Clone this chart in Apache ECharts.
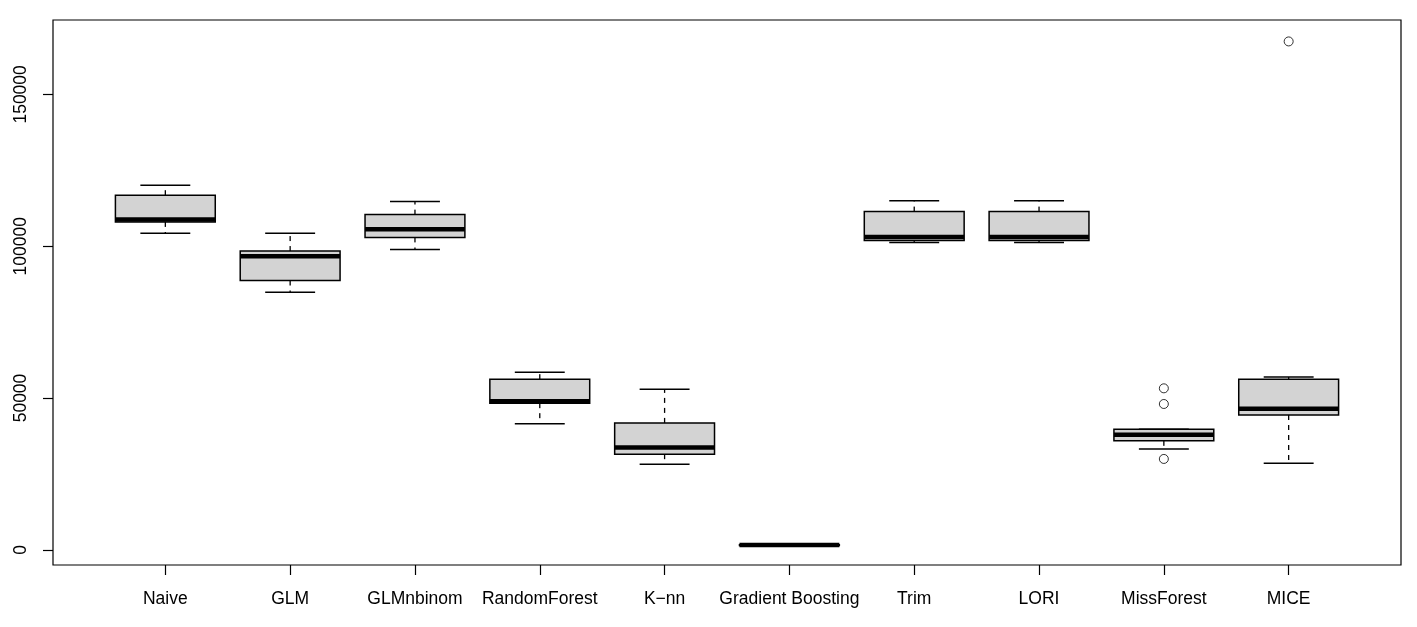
<!DOCTYPE html>
<html>
<head>
<meta charset="utf-8">
<script src="https://cdn.jsdelivr.net/npm/echarts@6/dist/echarts.min.js"></script>
<style>
html,body{margin:0;padding:0;background:#fff;}
#chart{width:1417px;height:627px;}
</style>
</head>
<body>
<div id="chart"></div>
<script>
const categories = ["Naive","GLM","GLMnbinom","RandomForest","K\u2212nn","Gradient Boosting","Trim","LORI","MissForest","MICE"];
const mins    = [104300, 84800, 98900, 41500, 28200, 1300, 101200, 101200, 33200, 28500];
const q1s     = [108000, 88700, 102900, 48300, 31500, 1450, 101900, 101900, 35900, 44400];
const medians = [108800, 96700, 105600, 48900, 33700, 1550, 103000, 103000, 37900, 46500];
const q3s     = [116800, 98400, 110400, 56200, 41800, 1650, 111400, 111400, 39700, 56200];
const maxs    = [120100, 104300, 114700, 58500, 52900, 1800, 115000, 115000, 39700, 56900];
const outlierGroups = [9, 9, 9, 10];
const outlierValues = [53190, 48030, 29930, 167440];
const yTicks = [0, 50000, 100000, 150000];

const boxData = categories.map((c, i) => [i + 1, mins[i], q1s[i], medians[i], q3s[i], maxs[i]]);
const outlierData = outlierGroups.map((g, i) => [g, outlierValues[i]]);

const chart = echarts.init(document.getElementById('chart'));
const font = '"Liberation Sans", Arial, sans-serif';

function renderBox(params, api) {
  const x = api.value(0);
  const pMin = api.coord([x, api.value(1)]);
  const pQ1 = api.coord([x, api.value(2)]);
  const pMed = api.coord([x, api.value(3)]);
  const pQ3 = api.coord([x, api.value(4)]);
  const pMax = api.coord([x, api.value(5)]);
  const bw = api.size([0.8, 0])[0];
  const cw = api.size([0.4, 0])[0];
  const cx = pMed[0];
  const stroke = '#000';
  const children = [
    {type: 'rect', shape: {x: cx - bw / 2, y: pQ3[1], width: bw, height: pQ1[1] - pQ3[1]},
     style: {fill: '#d3d3d3', stroke: 'none'}},
    {type: 'line', shape: {x1: cx, y1: pQ3[1], x2: cx, y2: pMax[1]},
     style: {stroke: stroke, lineWidth: 1.3, lineDash: [5, 5]}},
    {type: 'line', shape: {x1: cx, y1: pQ1[1], x2: cx, y2: pMin[1]},
     style: {stroke: stroke, lineWidth: 1.3, lineDash: [5, 5]}},
    {type: 'line', shape: {x1: cx - cw / 2, y1: pMax[1], x2: cx + cw / 2, y2: pMax[1]},
     style: {stroke: stroke, lineWidth: 1.5}},
    {type: 'line', shape: {x1: cx - cw / 2, y1: pMin[1], x2: cx + cw / 2, y2: pMin[1]},
     style: {stroke: stroke, lineWidth: 1.5}},
    {type: 'rect', shape: {x: cx - bw / 2, y: pQ3[1], width: bw, height: pQ1[1] - pQ3[1]},
     style: {fill: 'none', stroke: stroke, lineWidth: 1.5}},
    {type: 'line', shape: {x1: cx - bw / 2, y1: pMed[1], x2: cx + bw / 2, y2: pMed[1]},
     style: {stroke: stroke, lineWidth: 4.5}}
  ];
  return {type: 'group', children: children};
}

chart.setOption({
  animation: false,
  backgroundColor: '#fff',
  grid: {left: 53, right: 16, top: 20, bottom: 62, show: true, borderColor: '#000', borderWidth: 1.2, backgroundColor: 'transparent'},
  xAxis: {
    type: 'value', min: 0.1, max: 10.9,
    axisLine: {show: false, onZero: false},
    splitLine: {show: false},
    axisTick: {show: true, customValues: categories.map((c, i) => i + 1), length: 10, lineStyle: {color: '#000', width: 1.2}},
    axisLabel: {show: true, customValues: categories.map((c, i) => i + 1), margin: 25,
      formatter: v => categories[Math.round(v) - 1] || '',
      color: '#000', fontSize: 17.5, fontFamily: font}
  },
  yAxis: {
    type: 'value', min: -5000, max: 174500,
    axisLine: {show: false, onZero: false},
    splitLine: {show: false},
    axisTick: {show: true, customValues: yTicks, length: 10, lineStyle: {color: '#000', width: 1.2}},
    axisLabel: {show: true, customValues: yTicks, rotate: 90, margin: 23,
      formatter: v => String(v),
      color: '#000', fontSize: 17.5, fontFamily: font}
  },
  series: [
    {type: 'custom', renderItem: renderBox, data: boxData, encode: {x: 0, y: [1, 2, 3, 4, 5]}, z: 2},
    {type: 'scatter', data: outlierData, symbol: 'circle', symbolSize: 9,
     itemStyle: {color: 'transparent', borderColor: '#000', borderWidth: 1}, z: 3}
  ]
});
</script>
</body>
</html>
